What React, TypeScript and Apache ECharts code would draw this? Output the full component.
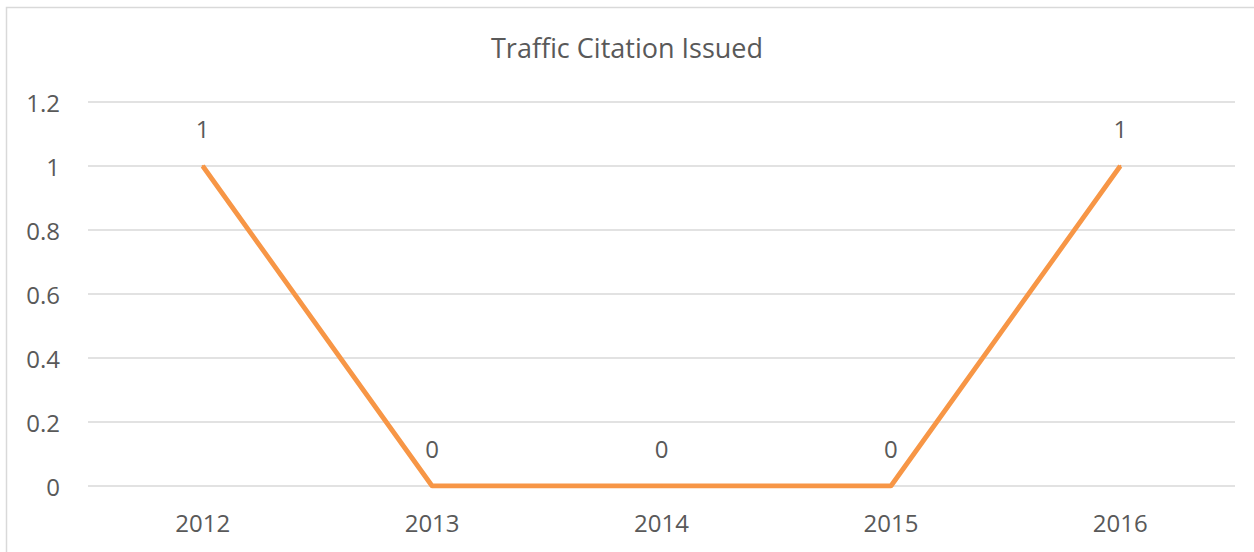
import React, { useEffect, useRef } from "react";
import * as echarts from "echarts";

const title = "Traffic Citation Issued";
const years = ["2012", "2013", "2014", "2015", "2016"];
const citations = [1, 0, 0, 0, 1];
const yTicks = { min: 0, max: 1.2, interval: 0.2 };

const FONT = "'Open Sans', 'Noto Sans', sans-serif";
const TEXT = "#595959";
const LABEL_SIZE = 24;

export default function App() {
  const ref = useRef<HTMLDivElement>(null);
  useEffect(() => {
    if (!ref.current) return;
    const chart = echarts.init(ref.current, undefined, { renderer: "svg" });
    chart.setOption({
      animation: false,
      backgroundColor: "#ffffff",
      textStyle: { fontFamily: FONT },
      title: {
        text: title,
        left: "center",
        top: 29,
        textStyle: { fontFamily: FONT, fontSize: 27, fontWeight: "normal", color: TEXT },
      },
      graphic: [
        {
          type: "rect",
          shape: { x: 6.5, y: 7.5, width: 1300, height: 700 },
          style: { fill: "none", stroke: "#d9d9d9", lineWidth: 1.5 },
          silent: true,
        },
      ],
      grid: { left: 88, right: 19, top: 102, bottom: 66 },
      xAxis: {
        type: "category",
        data: years,
        boundaryGap: true,
        axisLine: { show: false },
        axisTick: { show: false },
        axisLabel: { color: TEXT, fontSize: LABEL_SIZE, margin: 24, fontFamily: FONT },
      },
      yAxis: {
        type: "value",
        min: yTicks.min,
        max: yTicks.max,
        interval: yTicks.interval,
        axisLine: { show: false },
        axisTick: { show: false },
        axisLabel: {
          color: TEXT,
          fontSize: LABEL_SIZE,
          margin: 28,
          fontFamily: FONT,
          formatter: (v: number) => String(Math.round(v * 10) / 10),
        },
        splitLine: { lineStyle: { color: "#d9d9d9", width: 1.5 } },
      },
      series: [
        {
          type: "line",
          data: citations,
          symbol: "circle",
          symbolSize: 2,
          showSymbol: true,
          lineStyle: { color: "#F79646", width: 4.8 },
          itemStyle: { color: "#F79646" },
          label: {
            show: true,
            position: "top",
            distance: 25,
            color: TEXT,
            fontSize: LABEL_SIZE,
            fontFamily: FONT,
          },
        },
      ],
    });
    return () => chart.dispose();
  }, []);
  return (
    <div
      ref={ref}
      style={{ position: "absolute", left: 0, top: 0, width: 1254, height: 552 }}
    />
  );
}
